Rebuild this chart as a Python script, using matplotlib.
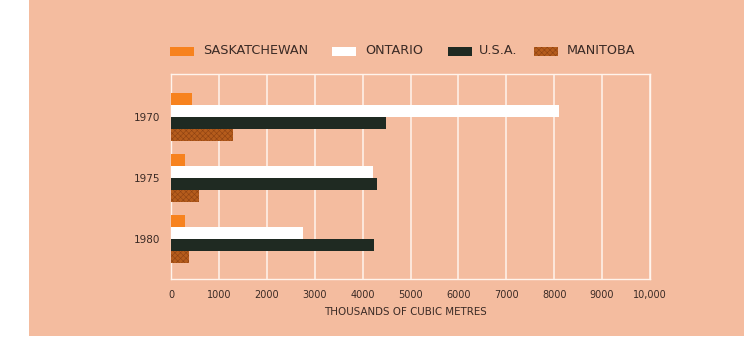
import matplotlib
matplotlib.use("Agg")
import matplotlib.pyplot as plt
import numpy as np
from matplotlib.patches import Rectangle

years = ["1970", "1975", "1980"]
series = ["SASKATCHEWAN", "ONTARIO", "U.S.A.", "MANITOBA"]
saskatchewan = [430, 285, 285]
ontario = [8100, 4220, 2750]
usa = [4480, 4310, 4230]
manitoba = [1290, 585, 375]
xticks = [0, 1000, 2000, 3000, 4000, 5000, 6000, 7000, 8000, 9000, 10000]
xticklabels = ["0", "1000", "2000", "3000", "4000", "5000", "6000", "7000", "8000", "9000", "10,000"]
xlabel = "THOUSANDS OF CUBIC METRES"

bg = "#F4BC9F"
colors = ["#F7821E", "#FFFFFF", "#1F2A22", "#B55C1C"]
hatches = [None, None, None, "xxxxxx"]
txt = "#3a2a25"
plt.rcParams['font.family'] = ['DejaVu Sans']
plt.rcParams['hatch.linewidth'] = 0.4

fig = plt.figure(figsize=(7.55, 3.42), dpi=100)
fig.patch.set_facecolor("white")
# peach panel
panel = Rectangle((29/755, 1 - 336/342), (744-29)/755, 336/342,
                  transform=fig.transFigure, facecolor=bg, edgecolor="none", zorder=-10)
fig.patches.append(panel)

ax = fig.add_axes([171/755, 1 - 279.3/342, (650-171)/755, (279.3-74.3)/342])
ax.set_zorder(5)
ax.set_facecolor(bg)

h = 0.2
y = np.arange(len(years))
data = [saskatchewan, ontario, usa, manitoba]
offsets = [-1.5*h, -0.5*h, 0.5*h, 1.5*h]
for vals, off, c, ht in zip(data, offsets, colors, hatches):
    if ht:
        ax.barh(y + off, vals, height=h, color=c, edgecolor="#8E4212", linewidth=0, hatch=ht, zorder=3)
    else:
        ax.barh(y + off, vals, height=h, color=c, linewidth=0, zorder=3)

ax.set_xlim(0, 10000)
ax.set_ylim(2.66, -0.70)
ax.set_xticks(xticks)
ax.set_xticklabels(xticklabels, fontsize=7, color=txt)
ax.set_yticks(y)
ax.set_yticklabels(years, fontsize=7.5, color=txt)
ax.tick_params(length=0, pad=8)
ax.tick_params(axis='y', pad=8)
ax.grid(axis='x', color="#FFF4EC", linewidth=1.1, zorder=1)
ax.set_axisbelow(True)
for s in ax.spines.values():
    s.set_color("#FFF4EC")
    s.set_linewidth(1.0)
ax.set_xlabel(xlabel, fontsize=7.4, color=txt, labelpad=4)
ax.xaxis.set_label_coords(0.49, -0.135)

# legend drawn manually
patch_x = [170, 331.5, 448, 534]
text_x = [203, 365, 479, 567]
ly = 51
for px, tx, c, ht, name in zip(patch_x, text_x, colors, hatches, series):
    r = Rectangle((px/755, 1 - (ly+4.5)/342), 24/755, 9/342, transform=fig.transFigure,
                  facecolor=c, edgecolor="#8E4212" if ht else "none", linewidth=0, hatch=ht, zorder=1)
    fig.patches.append(r)
    fig.text(tx/755, 1 - ly/342, name, fontsize=9.2, color=txt, va="center", ha="left")

fig.savefig("out.png", dpi=100, facecolor="white")
